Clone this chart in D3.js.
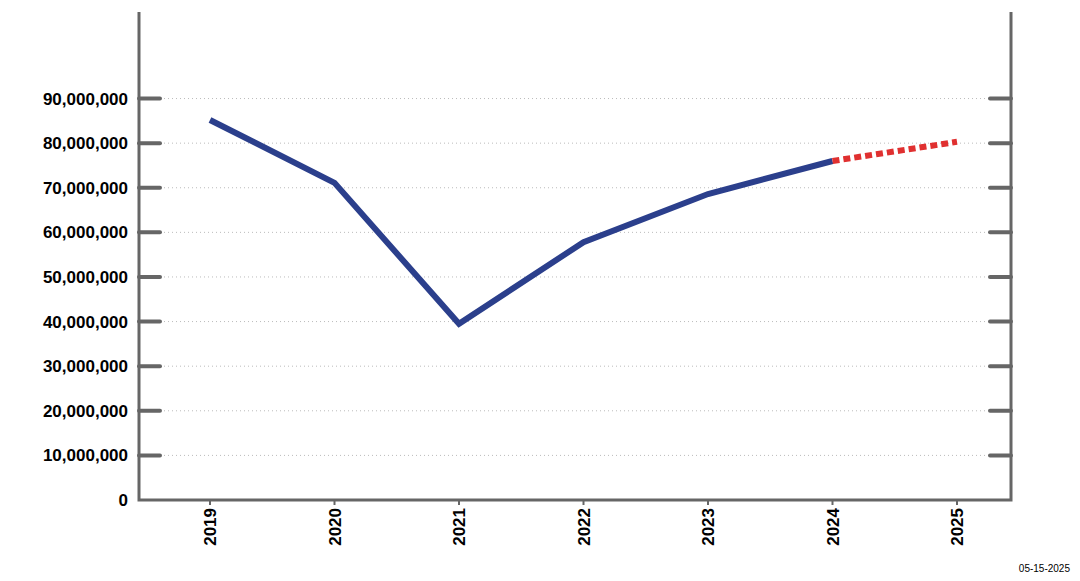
<!DOCTYPE html>
<html><head><meta charset="utf-8">
<script src="https://cdn.jsdelivr.net/npm/d3@7"></script>
<style>body{margin:0;background:#fff}text{font-family:"Liberation Sans",Arial,sans-serif}</style>
</head><body>
<svg id="chart" width="1080" height="581"></svg>
<script>
// values
var years = ["2019", "2020", "2021", "2022", "2023", "2024", "2025"];
var actual = [85200000, 71100000, 39500000, 57800000, 68600000, 76000000];
var forecast = [76000000, 80300000];
var yTicks = [0, 10000000, 20000000, 30000000, 40000000, 50000000, 60000000, 70000000, 80000000, 90000000];

var svg = d3.select("#chart");
var plotLeft = 139, plotRight = 1011, plotBottom = 500, plotTop = 12;

var x = d3.scalePoint().domain(years).range([210, 957]);
var y = d3.scaleLinear().domain([0, 109400000]).range([plotBottom, plotTop]);
var fmt = d3.format(",");

// dotted grid
svg.selectAll(".grid").data(yTicks.slice(1)).enter().append("line")
    .attr("x1", 160).attr("x2", 990)
    .attr("y1", function(d) { return y(d); }).attr("y2", function(d) { return y(d); })
    .attr("stroke", "#bbb").attr("stroke-width", 1).attr("stroke-dasharray", "1,3");

// tick stubs on both sides
svg.selectAll(".lt").data(yTicks.slice(1)).enter().append("line")
    .attr("x1", plotLeft).attr("x2", 160)
    .attr("y1", function(d) { return y(d); }).attr("y2", function(d) { return y(d); })
    .attr("stroke", "#666").attr("stroke-width", 4).attr("stroke-linecap", "round");
svg.selectAll(".rt").data(yTicks.slice(1)).enter().append("line")
    .attr("x1", 990).attr("x2", plotRight)
    .attr("y1", function(d) { return y(d); }).attr("y2", function(d) { return y(d); })
    .attr("stroke", "#666").attr("stroke-width", 4).attr("stroke-linecap", "round");

// frame
svg.append("path")
    .attr("d", "M" + plotLeft + "," + plotTop + "V" + plotBottom + "H" + plotRight + "V" + plotTop)
    .attr("fill", "none").attr("stroke", "#666").attr("stroke-width", 3);

// x ticks
svg.selectAll(".xt").data(years).enter().append("line")
    .attr("x1", function(d) { return x(d); }).attr("x2", function(d) { return x(d); })
    .attr("y1", plotBottom).attr("y2", plotBottom + 5)
    .attr("stroke", "#666").attr("stroke-width", 2);

// y labels
svg.selectAll(".yl").data(yTicks).enter().append("text")
    .attr("x", 128).attr("y", function(d) { return y(d) + 6; })
    .attr("text-anchor", "end").attr("font-size", 17).attr("font-weight", "bold")
    .text(function(d) { return fmt(d); });

// x labels rotated
svg.selectAll(".xl").data(years).enter().append("text")
    .attr("transform", function(d) { return "translate(" + (x(d) + 6) + "," + (plotBottom + 8) + ") rotate(-90)"; })
    .attr("text-anchor", "end").attr("font-size", 17).attr("font-weight", "bold")
    .text(function(d) { return d; });

var line = d3.line().x(function(d) { return x(d[0]); }).y(function(d) { return y(d[1]); });

svg.append("path")
    .datum(actual.map(function(v, i) { return [years[i], v]; }))
    .attr("d", line).attr("fill", "none")
    .attr("stroke", "#2b3f8c").attr("stroke-width", 6);

svg.append("path")
    .datum(forecast.map(function(v, i) { return [years[i + 5], v]; }))
    .attr("d", line).attr("fill", "none")
    .attr("stroke", "#e03030").attr("stroke-width", 6).attr("stroke-dasharray", "7,4");

svg.append("text").attr("x", 1070).attr("y", 572).attr("text-anchor", "end")
    .attr("font-size", 10).text("05-15-2025");
</script>
</body></html>
